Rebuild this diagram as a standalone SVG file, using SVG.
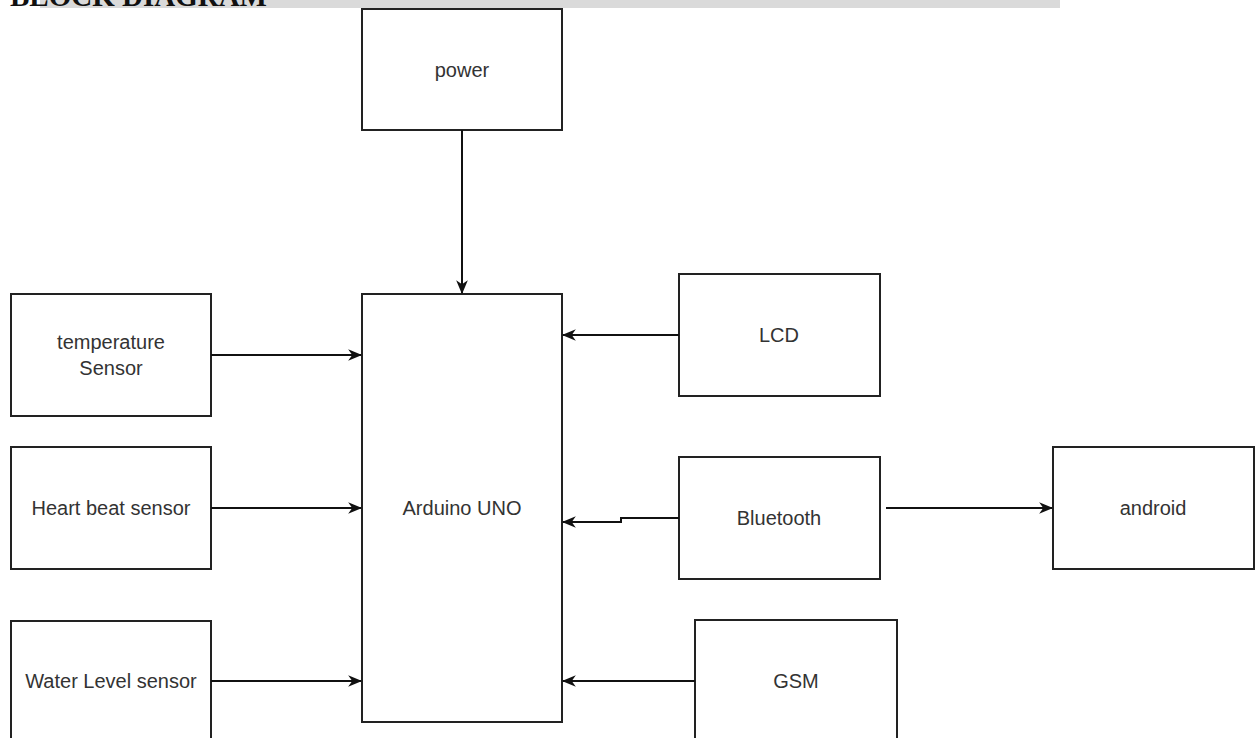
<svg xmlns="http://www.w3.org/2000/svg" width="1259" height="738" viewBox="0 0 1259 738">
<style>
.box{fill:#fff;stroke:#222;stroke-width:2}
.lbl{font-family:"Liberation Sans",Arial,sans-serif;font-size:20px;fill:#333;text-anchor:middle;dominant-baseline:central}
.edge{fill:none;stroke:#111;stroke-width:2}
</style>
<defs>
<marker id="arr" viewBox="0 0 12 12" refX="11" refY="6" markerWidth="14" markerHeight="14" markerUnits="userSpaceOnUse" orient="auto">
<path d="M0,1 L12,6 L0,11 L3.5,6 Z" fill="#111"/>
</marker>
</defs>
<rect x="0" y="0" width="1259" height="738" fill="#fff"/>
<g id="header">
<rect x="40" y="0" width="1020" height="8" fill="#dadada"/>
<text x="10" y="6" font-family="Liberation Serif,serif" font-weight="bold" font-size="29" fill="#111">BLOCK DIAGRAM</text>
</g>
<g id="power"><rect class="box" x="362" y="9" width="200" height="121"/><text class="lbl" x="462" y="70">power</text></g>
<g id="arduino"><rect class="box" x="362" y="294" width="200" height="428"/><text class="lbl" x="462" y="508">Arduino UNO</text></g>
<g id="temp"><rect class="box" x="11" y="294" width="200" height="122"/><text class="lbl" x="111" y="342">temperature</text><text class="lbl" x="111" y="368">Sensor</text></g>
<g id="heart"><rect class="box" x="11" y="447" width="200" height="122"/><text class="lbl" x="111" y="508">Heart beat sensor</text></g>
<g id="water"><rect class="box" x="11" y="621" width="200" height="130"/><text class="lbl" x="111" y="681">Water Level sensor</text></g>
<g id="lcd"><rect class="box" x="679" y="274" width="201" height="122"/><text class="lbl" x="779" y="335">LCD</text></g>
<g id="bluetooth"><rect class="box" x="679" y="457" width="201" height="122"/><text class="lbl" x="779" y="518">Bluetooth</text></g>
<g id="android"><rect class="box" x="1053" y="447" width="201" height="122"/><text class="lbl" x="1153" y="508">android</text></g>
<g id="gsm"><rect class="box" x="695" y="620" width="202" height="130"/><text class="lbl" x="796" y="681">GSM</text></g>
<g id="connectors">
<path class="edge" d="M462,130 V293" marker-end="url(#arr)"/>
<path class="edge" d="M211,355 H361" marker-end="url(#arr)"/>
<path class="edge" d="M211,508 H361" marker-end="url(#arr)"/>
<path class="edge" d="M211,681 H361" marker-end="url(#arr)"/>
<path class="edge" d="M679,335 H563" marker-end="url(#arr)"/>
<path class="edge" d="M679,518 H621 V522 H563" marker-end="url(#arr)"/>
<path class="edge" d="M695,681 H563" marker-end="url(#arr)"/>
<path class="edge" d="M886,508 H1052" marker-end="url(#arr)"/>
</g>
</svg>
